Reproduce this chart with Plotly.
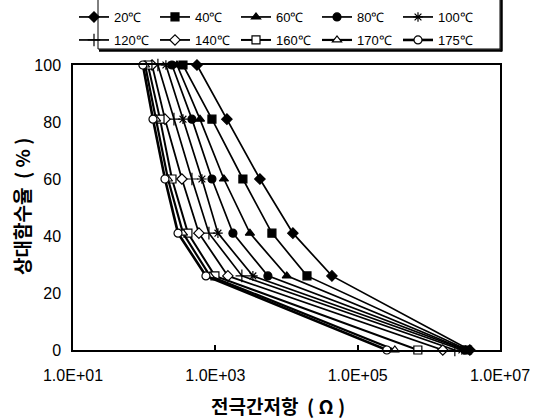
import plotly.graph_objects as go

# ---------------- data ----------------
rh_levels = [100, 81, 60, 41, 26, 0]          # relative humidity rows (%)

temps = ["20℃", "40℃", "60℃", "80℃", "100℃",
         "120℃", "140℃", "160℃", "170℃", "175℃"]

r_20 = [552, 1455, 4230, 12300, 43500, 3.77e6]
r_40 = [351, 896, 2440, 6240, 19400, 3.5e6]
r_60 = [289, 608, 1320, 3060, 10100, 3.3e6]
r_80 = [246, 469, 896, 1767, 5480, 3.2e6]
r_100 = [202, 351, 648, 1088, 3370, 2.91e6]
r_120 = [156, 262, 469, 813, 2360, 2.32e6]
r_140 = [129, 196, 339, 588, 1500, 1.57e6]
r_160 = [113, 167, 246, 412, 987, 7.01e5]
r_170 = [103, 147, 216, 351, 840, 3.33e5]
r_175 = [96, 133, 196, 299, 738, 2.57e5]

series = [r_20, r_40, r_60, r_80, r_100, r_120, r_140, r_160, r_170, r_175]

x_tickvals = [1e1, 1e3, 1e5, 1e7]
x_ticktext = ["1.0E+01", "1.0E+03", "1.0E+05", "1.0E+07"]
y_tickvals = [0, 20, 40, 60, 80, 100]

x_title = "전극간저항  ( Ω )"
y_title = "상대함수율  ( % )"

# ---------------- styles ----------------
symbols = ["diamond", "square", "triangle-up", "circle", "asterisk-open",
           "cross-thin-open", "diamond", "square", "triangle-up", "circle"]
fills = ["black", "black", "black", "black", "black",
         "black", "white", "white", "white", "white"]
sizes = [8, 8, 8, 8, 8, 9, 8, 8, 8, 8]
widths = [1.7, 1.7, 1.7, 1.7, 1.7, 1.7, 1.8, 2.0, 2.2, 2.6]

W, H = 535, 420
L, R, T, B = 73, 35, 65, 70
PW, PH = W - L - R, H - T - B


def px_x(p):
    return (p - L) / PW


def px_y(p):
    return 1 - (p - T) / PH


fig = go.Figure()
for i, (name, vals) in enumerate(zip(temps, series)):
    fig.add_trace(go.Scatter(
        x=vals, y=rh_levels, name=name, mode="lines+markers",
        line=dict(color="black", width=widths[i]),
        marker=dict(symbol=symbols[i], size=sizes[i], color=fills[i],
                    line=dict(color="black", width=1.2)),
        cliponaxis=False,
        legend="legend" if i < 5 else "legend2",
    ))

tick_font = dict(family="Liberation Sans, Arial, sans-serif", size=16, color="black")
leg_font = dict(family="Liberation Sans, Arial, sans-serif", size=13, color="black")
title_font = dict(family="Noto Sans CJK KR, sans-serif", size=19, color="black", weight="bold")

leg_common = dict(orientation="h", xanchor="left", yanchor="top",
                  entrywidth=36, entrywidthmode="pixels", font=leg_font,
                  bgcolor="rgba(0,0,0,0)", borderwidth=0, itemwidth=30)

fig.update_layout(
    width=W, height=H,
    margin=dict(l=L, r=R, t=T, b=B, autoexpand=False),
    paper_bgcolor="white", plot_bgcolor="white",
    showlegend=True,
    legend=dict(x=px_x(74), y=px_y(2), **leg_common),
    legend2=dict(x=px_x(74), y=px_y(25), **leg_common),
    xaxis=dict(type="log", range=[1, 7], tickvals=x_tickvals, ticktext=x_ticktext,
               ticks="inside", ticklen=5, tickcolor="black", tickwidth=1.5,
               showline=True, linecolor="black", linewidth=1.5, mirror=True,
               showgrid=False, zeroline=False, tickfont=tick_font,
               ticklabelstandoff=10),
    yaxis=dict(range=[0, 100], tickvals=y_tickvals,
               ticks="", showline=True, linecolor="black", linewidth=1.5, mirror=True,
               showgrid=False, zeroline=False, tickfont=tick_font,
               ticklabelstandoff=7),
)

# axis titles
fig.add_annotation(text=x_title, xref="paper", yref="paper",
                   x=px_x(278), y=px_y(405), showarrow=False, font=title_font,
                   xanchor="center", yanchor="middle")
fig.add_annotation(text=y_title, xref="paper", yref="paper",
                   x=px_x(21), y=px_y(207), showarrow=False, font=title_font,
                   textangle=-90, xanchor="center", yanchor="middle")

# legend frame with shadow (top edge lies just above the page)
fig.add_shape(type="rect", xref="paper", yref="paper",
              x0=px_x(98), x1=px_x(500), y0=px_y(49), y1=px_y(-4),
              line=dict(color="black", width=1), fillcolor="rgba(0,0,0,0)")
fig.add_shape(type="line", xref="paper", yref="paper",
              x0=px_x(99), x1=px_x(502), y0=px_y(50.5), y1=px_y(50.5),
              line=dict(color="black", width=2.5))
fig.add_shape(type="line", xref="paper", yref="paper",
              x0=px_x(501.5), x1=px_x(501.5), y0=px_y(51.5), y1=px_y(-4),
              line=dict(color="black", width=2.5))

fig.write_html("out.html", config={"displayModeBar": False},
               post_script="document.body.style.margin='0';document.body.style.padding='0';")
